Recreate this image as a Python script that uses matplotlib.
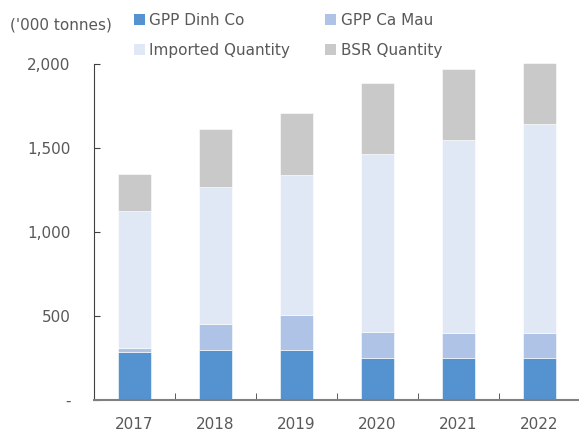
import numpy as np
import matplotlib.pyplot as plt
from matplotlib.patches import Patch

years = ['2017', '2018', '2019', '2020', '2021', '2022']
dinh_co = [286, 298, 298, 250, 250, 250]
ca_mau = [24, 154, 206, 155, 147, 147]
imported = [813, 814, 833, 1062, 1153, 1244]
bsr = [220, 345, 374, 422, 420, 365]

colors = ['#5592d0', '#aec3e6', '#e0e8f6', '#c9c9c9']
names = ['GPP Dinh Co', 'GPP Ca Mau', 'Imported Quantity', 'BSR Quantity']
txt = '#595959'

fig = plt.figure(figsize=(5.79, 4.37), dpi=100)
ax = fig.add_axes([94 / 579, 1 - 400 / 437, 486 / 579, 336 / 437])

x = np.arange(len(years))
bottom = np.zeros(len(years))
for vals, c in zip([dinh_co, ca_mau, imported, bsr], colors):
    ax.bar(x, vals, 0.41, bottom=bottom, color=c, edgecolor='white',
           linewidth=0.4, clip_on=False, zorder=2)
    bottom += np.array(vals)

ax.set_xlim(-0.5, len(years) - 0.5)
ax.set_ylim(0, 2000)
ax.set_yticks([0, 500, 1000, 1500, 2000])
ax.set_yticklabels(['-', '500', '1,000', '1,500', '2,000'])
ax.set_xticks(x)
ax.set_xticklabels(years)
ax.set_xticks(np.arange(-0.5, len(years), 1), minor=True)

for s in ['top', 'right']:
    ax.spines[s].set_visible(False)
ax.spines['left'].set_color('#404040')
ax.spines['bottom'].set_color('#808080')
ax.spines['bottom'].set_linewidth(1.5)

ax.tick_params(axis='y', direction='in', length=4, color='#404040',
               labelsize=11, labelcolor=txt, pad=17)
ax.tick_params(axis='x', which='major', length=0, labelsize=11,
               labelcolor=txt, pad=12)
ax.tick_params(axis='x', which='minor', direction='in', length=5,
               color='#404040')

fig.text(10 / 579, 1 - 25 / 437, "('000 tonnes)", fontsize=11, color=txt,
         va='center', ha='left')

handles = [Patch(facecolor=colors[i], label=names[i]) for i in [0, 2, 1, 3]]
leg = fig.legend(handles=handles, ncol=2, loc='upper left',
                 bbox_to_anchor=(128 / 579, 1 - 7 / 437), frameon=False,
                 fontsize=11, handlelength=0.7, handleheight=0.7,
                 handletextpad=0.3, columnspacing=2.3, labelspacing=0.95,
                 borderaxespad=0)
for t in leg.get_texts():
    t.set_color(txt)

plt.savefig('out.png', dpi=100)
